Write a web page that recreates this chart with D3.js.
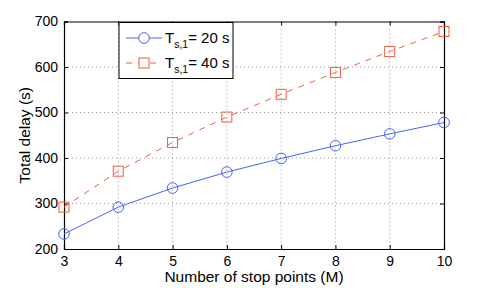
<!DOCTYPE html>
<html><head><meta charset="utf-8">
<script src="https://cdn.jsdelivr.net/npm/d3@7"></script>
<style>body{margin:0;background:#fff}text{font-family:"Liberation Sans",Arial,sans-serif}</style>
</head><body><svg id="c" width="491" height="288"></svg>
<script>
const stopPoints = [3,4,5,6,7,8,9,10];
const delay20 = [233,292,334,369,399,427,453,478];
const delay40 = [292,371,434,490,540,588,634,678];
const yTicks = [200,300,400,500,600,700];
const legendLabels = ["20 s","40 s"];

const svg = d3.select("#c");
const L=64,R=444,T=21.5,B=249;
const x = d3.scaleLinear().domain([3,10]).range([L,R]);
const y = d3.scaleLinear().domain([200,700]).range([B,T]);
const blue="#4a62f7", red="#ee6040";

const g = svg.append("g");
// grid
g.selectAll(".gx").data(stopPoints.slice(1,-1)).enter().append("line")
 .attr("x1",d=>x(d)).attr("x2",d=>x(d)).attr("y1",T).attr("y2",B)
 .attr("stroke","#999").attr("stroke-dasharray","1,3").attr("stroke-width",1);
g.selectAll(".gy").data(yTicks.slice(1,-1)).enter().append("line")
 .attr("y1",d=>y(d)).attr("y2",d=>y(d)).attr("x1",L).attr("x2",R)
 .attr("stroke","#999").attr("stroke-dasharray","1,3").attr("stroke-width",1);

// axes
const ax = d3.axisBottom(x).tickValues(stopPoints).tickSize(-4).tickPadding(7).tickFormat(d3.format("d"));
const ay = d3.axisLeft(y).tickValues(yTicks).tickSize(-4).tickPadding(6);
const gx = svg.append("g").attr("transform",`translate(0,${B})`).call(ax);
const gy = svg.append("g").attr("transform",`translate(${L},0)`).call(ay);
const gx2 = svg.append("g").attr("transform",`translate(0,${T})`).call(d3.axisTop(x).tickValues(stopPoints).tickSize(-4).tickFormat(""));
const gy2 = svg.append("g").attr("transform",`translate(${R},0)`).call(d3.axisRight(y).tickValues(yTicks).tickSize(-4).tickFormat(""));
[gx,gy,gx2,gy2].forEach(a=>{a.select(".domain").attr("stroke","#000").attr("stroke-width",1.2);
 a.selectAll(".tick line").attr("stroke","#000");
 a.selectAll("text").attr("font-size",14).attr("fill","#000").style("font-family","Liberation Sans, Arial, sans-serif");});

// lines
const line = d3.line().x((d,i)=>x(stopPoints[i])).y(d=>y(d));
svg.append("path").datum(delay20).attr("d",line).attr("fill","none").attr("stroke",blue).attr("stroke-width",1);
svg.append("path").datum(delay40).attr("d",line).attr("fill","none").attr("stroke",red).attr("stroke-width",1).attr("stroke-dasharray","6,6");
svg.selectAll(".c").data(delay20).enter().append("circle")
 .attr("cx",(d,i)=>x(stopPoints[i])).attr("cy",d=>y(d)).attr("r",5.3).attr("fill","none").attr("stroke",blue).attr("stroke-width",1);
svg.selectAll(".s").data(delay40).enter().append("rect")
 .attr("x",(d,i)=>x(stopPoints[i])-5).attr("y",d=>y(d)-5).attr("width",10).attr("height",10).attr("fill","none").attr("stroke",red).attr("stroke-width",1);

// labels
svg.append("text").attr("x",(L+R)/2).attr("y",282).attr("text-anchor","middle").attr("font-size",15.5).text("Number of stop points (M)");
svg.append("text").attr("transform",`translate(30,${(T+B)/2}) rotate(-90)`).attr("text-anchor","middle").attr("font-size",15.5).text("Total delay (s)");

// legend
const lg = svg.append("g");
lg.append("rect").attr("x",119).attr("y",22.5).attr("width",114).attr("height",56).attr("fill","#fff").attr("stroke","#000").attr("stroke-width",1);
const cols=[blue,red];
legendLabels.forEach((lab,i)=>{
  const yy = 38 + i*25;
  lg.append("line").attr("x1",126).attr("x2",162).attr("y1",yy).attr("y2",yy).attr("stroke",cols[i]).attr("stroke-width",1)
    .attr("stroke-dasharray", i? "6,6":null);
  if(i==0) lg.append("circle").attr("cx",144).attr("cy",yy).attr("r",5.3).attr("fill","#fff").attr("stroke",blue);
  else lg.append("rect").attr("x",139).attr("y",yy-5).attr("width",10).attr("height",10).attr("fill","#fff").attr("stroke",red);
  const t = lg.append("text").attr("x",165).attr("y",yy+5).attr("font-size",15);
  t.append("tspan").text("T");
  t.append("tspan").attr("font-size",10.5).attr("dy",5).text("s,1");
  t.append("tspan").attr("dy",-5).text("= "+lab);
});
</script></body></html>
